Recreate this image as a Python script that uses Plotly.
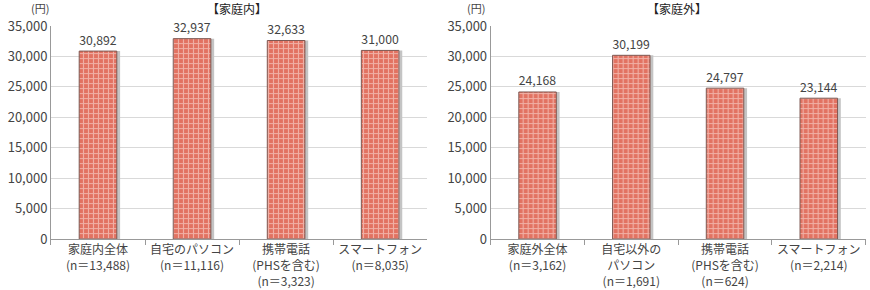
import plotly.graph_objects as go

cats_in = ["家庭内全体<br>(n＝13,488)", "自宅のパソコン<br>(n＝11,116)", "携帯電話<br>(PHSを含む)<br>(n＝3,323)", "スマートフォン<br>(n＝8,035)"]
vals_in = [30892, 32937, 32633, 31000]
cats_out = ["家庭外全体<br>(n＝3,162)", "自宅以外の<br>パソコン<br>(n＝1,691)", "携帯電話<br>(PHSを含む)<br>(n＝624)", "スマートフォン<br>(n＝2,214)"]
vals_out = [24168, 30199, 24797, 23144]
yticks = [0, 5000, 10000, 15000, 20000, 25000, 30000, 35000]

FONT = "Noto Sans CJK JP"
TXT = "#444444"

fig = go.Figure()

def shadow(x, y, xa, ya):
    return go.Bar(
        x=x, y=y, xaxis=xa, yaxis=ya, width=0.4, offset=-0.2 + 0.035,
        marker=dict(color="#c4c4c4", line=dict(width=0)),
        hoverinfo="skip", showlegend=False,
    )

def bar(x, y, xa, ya):
    return go.Bar(
        x=x, y=y, xaxis=xa, yaxis=ya, width=0.4, offset=-0.2,
        marker=dict(color="#e9806e",
                    line=dict(color="#7f5a54", width=1),
                    pattern=dict(shape="+", fgcolor="#fdeeea", bgcolor="#e27261",
                                 size=5, solidity=0.4)),
        texttemplate="%{y:,}", textposition="outside",
        textfont=dict(size=14, color=TXT, family=FONT),
        cliponaxis=False, showlegend=False,
    )

fig.add_trace(shadow(cats_in, vals_in, "x", "y"))
fig.add_trace(shadow(cats_out, vals_out, "x2", "y2"))
fig.add_trace(bar(cats_in, vals_in, "x", "y"))
fig.add_trace(bar(cats_out, vals_out, "x2", "y2"))

xcommon = dict(showline=True, linecolor="#999999", linewidth=1, ticks="outside",
               tickson="boundaries", ticklen=5, tickcolor="#999999", automargin=False,
               tickfont=dict(size=12, color=TXT, family=FONT), showgrid=False)
ycommon = dict(range=[0, 35000], tickvals=yticks, tickformat=",", showline=True,
               linecolor="#999999", linewidth=1, showgrid=True, gridcolor="#d9d9d9",
               gridwidth=1, ticks="", tickfont=dict(size=13, color=TXT, family=FONT),
               zeroline=False, automargin=False)

fig.update_layout(
    width=870, height=290, margin=dict(l=0, r=0, t=0, b=0),
    plot_bgcolor="white", paper_bgcolor="white",
    font=dict(family=FONT, color=TXT),
    barmode="overlay",
    xaxis=dict(domain=[0.0586, 0.491], anchor="y", **xcommon),
    yaxis=dict(domain=[0.176, 0.910], anchor="x", **ycommon),
    xaxis2=dict(domain=[0.564, 0.995], anchor="y2", **xcommon),
    yaxis2=dict(domain=[0.176, 0.910], anchor="x2", **ycommon),
    annotations=[
        dict(text="(円)", x=40/870, y=1 - 8/290, xref="paper", yref="paper",
             xanchor="center", yanchor="middle",
             showarrow=False, font=dict(size=11, color=TXT, family=FONT)),
        dict(text="【家庭内】", x=237/870, y=1 - 9/290, xref="paper", yref="paper",
             xanchor="center", yanchor="middle",
             showarrow=False, font=dict(size=12, color="#222222", family=FONT)),
        dict(text="(円)", x=476/870, y=1 - 8/290, xref="paper", yref="paper",
             xanchor="center", yanchor="middle",
             showarrow=False, font=dict(size=11, color=TXT, family=FONT)),
        dict(text="【家庭外】", x=677/870, y=1 - 9/290, xref="paper", yref="paper",
             xanchor="center", yanchor="middle",
             showarrow=False, font=dict(size=12, color="#222222", family=FONT)),
    ],
)

fig.write_html("out.html")
